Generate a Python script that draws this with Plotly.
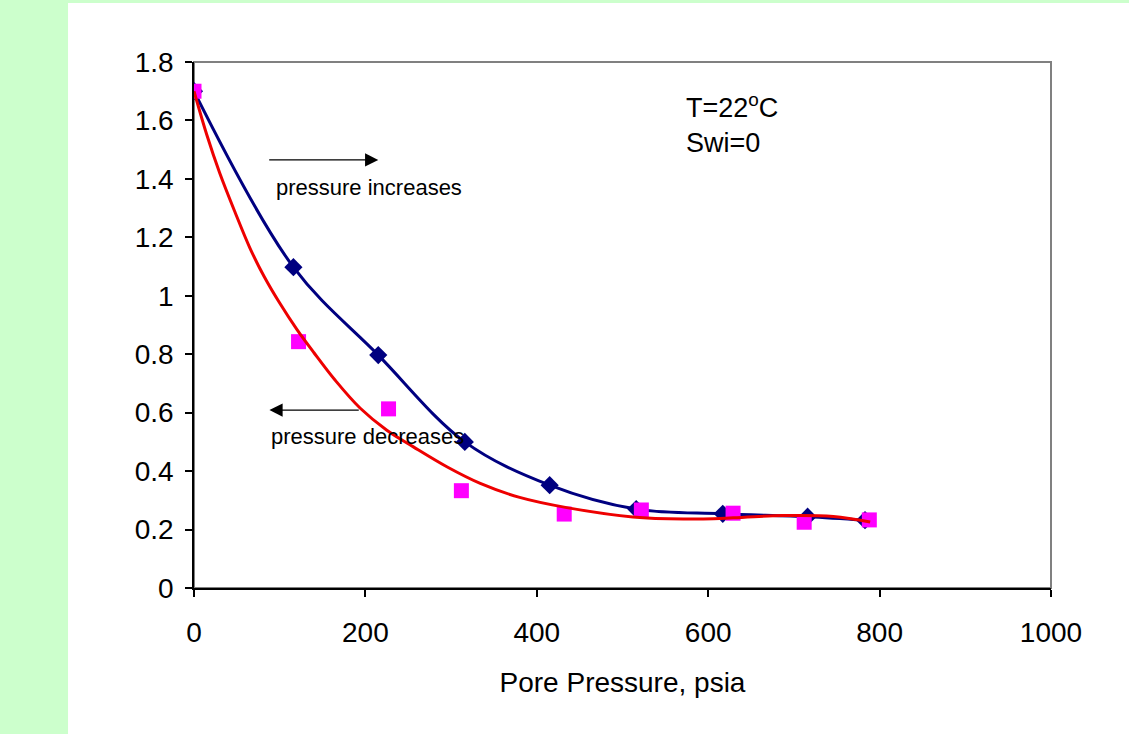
import plotly.graph_objects as go

# Pressure increases (blue diamonds, smoothed line)
inc_pressure = [0, 116, 215, 316, 415, 516, 617, 716, 783]
inc_value = [1.70, 1.098, 0.797, 0.50, 0.352, 0.27, 0.254, 0.244, 0.232]

# Pressure decreases (magenta squares)
dec_pressure = [0, 122, 227, 312, 432, 522, 629, 712, 788]
dec_value = [1.70, 0.843, 0.613, 0.333, 0.253, 0.267, 0.256, 0.225, 0.233]

# Red smoothed curve through the decreasing data
fit_pressure = [0, 15, 30, 48, 65, 82, 100, 120, 140, 165, 194, 225, 256, 295, 334, 380, 435, 512, 571, 629, 687, 746, 789]
fit_value = [1.70, 1.55, 1.42, 1.285, 1.165, 1.065, 0.975, 0.885, 0.805, 0.71, 0.615, 0.54, 0.483, 0.415, 0.358, 0.31, 0.275, 0.243, 0.236, 0.24, 0.248, 0.245, 0.226]

x_ticks = [0, 200, 400, 600, 800, 1000]
y_ticks = [0, 0.2, 0.4, 0.6, 0.8, 1, 1.2, 1.4, 1.6, 1.8]

FONT = "Liberation Sans, Arial, sans-serif"

fig = go.Figure()
fig.add_trace(go.Scatter(
    x=inc_pressure, y=inc_value, mode="lines+markers",
    line=dict(color="#000080", width=3, shape="spline", smoothing=1),
    marker=dict(symbol="diamond", size=14, color="#000080"),
    showlegend=False))
fig.add_trace(go.Scatter(
    x=dec_pressure, y=dec_value, mode="markers",
    marker=dict(symbol="square", size=15, color="#FF00FF"),
    showlegend=False))
fig.add_trace(go.Scatter(
    x=fit_pressure, y=fit_value, mode="lines",
    line=dict(color="#EE0000", width=3, shape="spline", smoothing=1),
    showlegend=False))

# background: green strip, white panel
fig.add_shape(type="rect", xref="paper", yref="paper",
              x0=-0.147, x1=1.3, y0=-0.4, y1=1.112,
              fillcolor="white", line=dict(width=0), layer="below")
# gray frame
fig.add_shape(type="rect", xref="paper", yref="paper",
              x0=0, x1=1, y0=0, y1=1,
              line=dict(color="#808080", width=2), layer="below")

# arrows
fig.add_annotation(x=215, y=1.465, ax=86, ay=1.465, xref="x", yref="y",
                   axref="x", ayref="y", text="", showarrow=True,
                   arrowhead=2, arrowsize=2.2, arrowwidth=1.2, arrowcolor="black")
fig.add_annotation(x=88, y=0.609, ax=194, ay=0.609, xref="x", yref="y",
                   axref="x", ayref="y", text="", showarrow=True,
                   arrowhead=2, arrowsize=2.2, arrowwidth=1.2, arrowcolor="black")
fig.add_annotation(x=93, y=1.369, xref="x", yref="y", text="pressure increases",
                   showarrow=False, xanchor="left", yanchor="middle",
                   font=dict(family=FONT, size=22, color="black"))
fig.add_annotation(x=87, y=0.517, xref="x", yref="y", text="pressure decreases",
                   showarrow=False, xanchor="left", yanchor="middle",
                   font=dict(family=FONT, size=22, color="black"))
fig.add_annotation(x=572, y=1.59, xref="x", yref="y",
                   text="T=22<sup>o</sup>C<br>Swi=0", align="left",
                   showarrow=False, xanchor="left", yanchor="middle",
                   font=dict(family=FONT, size=27, color="black"))

fig.update_layout(
    width=1129, height=734,
    margin=dict(l=194, r=78, t=62, b=146),
    paper_bgcolor="#CCFFCC", plot_bgcolor="white",
    font=dict(family=FONT, size=28, color="black"),
    xaxis=dict(range=[0, 1000], tickvals=x_ticks, showgrid=False, zeroline=False,
               showline=True, linecolor="black", linewidth=1.5,
               ticks="outside", ticklen=7, tickcolor="black", tickwidth=1.5,
               ticklabelstandoff=12,
               title=dict(text="Pore Pressure, psia", standoff=25,
                          font=dict(size=28))),
    yaxis=dict(range=[0, 1.8], tickvals=y_ticks, showgrid=False, zeroline=False,
               showline=True, linecolor="black", linewidth=1.5,
               ticks="outside", ticklen=7, tickcolor="black", tickwidth=1.5,
               ticklabelstandoff=6),
)

fig.write_html("out.html", config={"displayModeBar": False},
               post_script="document.body.style.margin='0';document.body.style.overflow='hidden';")
